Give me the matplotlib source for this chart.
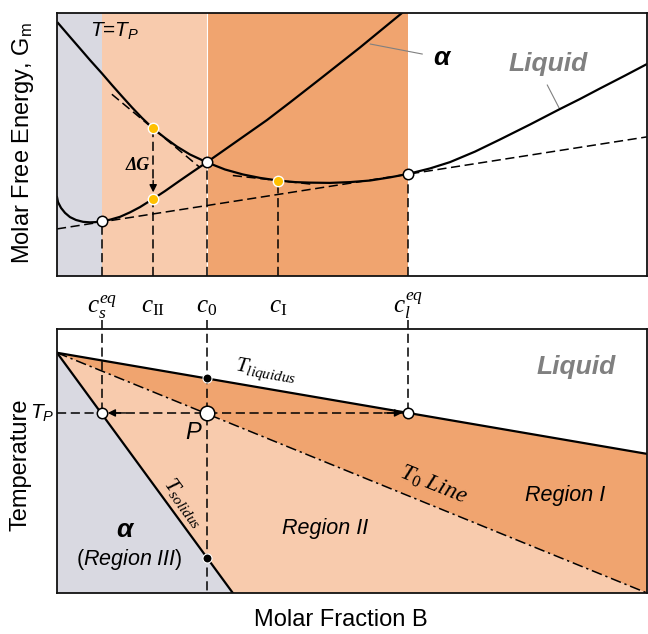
import matplotlib
matplotlib.use("Agg")
import matplotlib.pyplot as plt

plt.rcParams["font.family"] = ["Liberation Sans", "DejaVu Sans"]
plt.rcParams["mathtext.fontset"] = "custom"
plt.rcParams["mathtext.rm"] = "Liberation Serif"
plt.rcParams["mathtext.it"] = "Liberation Serif:italic"
plt.rcParams["mathtext.sf"] = "Liberation Sans:italic"
plt.rcParams["mathtext.bf"] = "Liberation Sans"

# ── colours ──
GREY_REG = "#d9d9e1"
LIGHT_OR = "#f8cbad"
DARK_OR = "#f0a46f"
YELLOW = "#ffc000"
TXT_GREY = "#808080"

# ── compositions (molar fraction B, 0-100 across the axis) ──
c_s_eq = 7.6
c_II = 16.3
c_0 = 25.4
c_I = 37.5
c_l_eq = 59.5
comp_labels = [r"$c_s^{eq}$", r"$c_{\mathrm{II}}$", r"$c_0$", r"$c_{\mathrm{I}}$", r"$c_l^{eq}$"]
comp_values = [c_s_eq, c_II, c_0, c_I, c_l_eq]

# ── free energy curves at T = T_P (arbitrary units 0-100) ──
liq_x = [0.17, 2.20, 3.90, 5.59, 7.63, 9.32, 11.02, 12.71, 14.41, 16.27, 18.31,
         20.34, 22.54, 25.42, 28.47, 31.53, 34.41, 37.46, 40.34, 42.88, 46.27,
         49.66, 53.05, 56.44, 59.49, 63.22, 66.61, 70.85, 75.08, 80.17, 85.08,
         88.64, 92.03, 96.27, 100.0]
liq_G = [96.2, 90.9, 86.5, 82.1, 77.0, 72.6, 68.3, 64.1, 60.1, 56.1, 52.5,
         49.2, 46.2, 43.2, 40.5, 38.6, 37.3, 36.3, 35.7, 35.5, 35.4,
         35.7, 36.3, 37.5, 38.8, 40.9, 43.3, 47.3, 51.9, 57.6, 63.3,
         67.3, 71.3, 76.2, 80.6]
alpha_x = [0.0, 0.17, 0.68, 1.36, 2.20, 3.22, 4.41, 5.59, 6.61, 7.63, 8.98,
           10.68, 12.37, 14.07, 16.27, 18.31, 20.85, 23.05, 25.42, 27.97, 30.51,
           33.05, 35.59, 39.49, 44.58, 51.36, 58.47]
alpha_G = [30.0, 28.1, 25.9, 24.0, 22.4, 21.3, 20.6, 20.4, 20.5, 20.9, 21.4,
           22.5, 24.2, 26.2, 29.3, 32.3, 36.3, 39.7, 43.3, 47.3, 51.3,
           55.3, 59.3, 66.0, 74.9, 86.9, 100.0]
common_tangent_x = [0.0, 100.0]
common_tangent_G = [17.9, 52.9]
tangent_II_x = [9.3, 24.2]
tangent_II_G = [69.1, 41.3]
tangent_I_x = [29.8, 43.2]
tangent_I_G = [38.2, 34.9]
G_eq_s, G_0, G_eq_l = 20.9, 43.3, 38.8
G_II_liq, G_II_alpha, G_I_liq = 56.1, 29.3, 36.3

# ── phase diagram (temperature 0-100) ──
T_melt_A = 91.0
liquidus_x = [0.0, 100.0]
liquidus_T = [T_melt_A, 52.7]
solidus_x = [0.0, 29.8]
solidus_T = [T_melt_A, 0.0]
t0_x = [0.0, 100.0]
t0_T = [T_melt_A, 0.0]
T_P = 68.2
T_liq_c0 = 81.3
T_sol_c0 = 13.4

DASH = (0, (6, 3))
DASHDOT = (0, (7, 2.5, 1.5, 2.5))

fig = plt.figure(figsize=(6.48, 6.34), dpi=100)
ax1 = fig.add_axes([57 / 648, 1 - 276 / 634, 590 / 648, 263 / 634])
ax2 = fig.add_axes([57 / 648, 1 - 593 / 634, 590 / 648, 264 / 634])

for ax in (ax1, ax2):
    ax.set_xlim(0, 100)
    ax.set_ylim(0, 100)
    ax.set_xticks([])
    ax.set_yticks([])
    for sp in ax.spines.values():
        sp.set_linewidth(1.3)
        sp.set_color("#111111")
        sp.set_zorder(10)

# ══════════════════════════════════════════════
# Top: free energy curves
# ══════════════════════════════════════════════
ax1.axvspan(0, c_s_eq, color=GREY_REG, lw=0, zorder=0)
ax1.axvspan(c_s_eq, c_0, color=LIGHT_OR, lw=0, zorder=0)
ax1.axvspan(c_0, c_l_eq, color=DARK_OR, lw=0, zorder=0)
ax1.axvline(c_0, color="white", lw=0.8, zorder=0.5)

ax1.plot(liq_x, liq_G, color="k", lw=1.6, zorder=3, solid_joinstyle="round")
ax1.plot(alpha_x, alpha_G, color="k", lw=1.6, zorder=3, solid_joinstyle="round")
ax1.plot(common_tangent_x, common_tangent_G, color="k", lw=1.1, ls=DASH, zorder=2)
ax1.plot(tangent_II_x, tangent_II_G, color="k", lw=1.1, ls=DASH, zorder=2)
ax1.plot(tangent_I_x, tangent_I_G, color="k", lw=1.1, ls=DASH, zorder=2)

for xv, gv in [(c_s_eq, G_eq_s), (c_II, G_II_alpha), (c_0, G_0), (c_I, G_I_liq), (c_l_eq, G_eq_l)]:
    ax1.plot([xv, xv], [0, gv], color="k", lw=1.1, ls=DASH, zorder=2)

# delta G arrow
ax1.plot([c_II, c_II], [G_II_liq, G_II_alpha + 6], color="k", lw=1.1, ls=DASH, zorder=2)
ax1.annotate("", xy=(c_II, G_II_alpha + 2.5), xytext=(c_II, G_II_alpha + 7),
             arrowprops=dict(arrowstyle="-|>", color="k", lw=1.0, mutation_scale=11,
                             shrinkA=0, shrinkB=0), zorder=4)
ax1.text(c_II - 2.7, 42.2, "ΔG", fontsize=13, fontweight="bold", fontstyle="italic",
         family="Liberation Serif", ha="center", va="center")

ax1.plot([c_s_eq, c_0, c_l_eq], [G_eq_s, G_0, G_eq_l], "o", ms=7.5, mfc="white",
         mec="k", mew=1.1, zorder=5)
ax1.plot([c_II, c_II, c_I], [G_II_liq, G_II_alpha, G_I_liq], "o", ms=7.5, mfc=YELLOW,
         mec="white", mew=1.0, zorder=5)

ax1.text(9.8, 93.0, r"$\mathsf{T}$=$\mathsf{T_P}$", fontsize=15, ha="center", va="center")
ax1.plot([53.1, 61.9], [88.2, 84.4], color=TXT_GREY, lw=0.8)
ax1.text(65.2, 83.0, "α", fontsize=19, fontweight="bold", fontstyle="italic",
         ha="center", va="center")
ax1.plot([83.1, 85.1], [72.6, 63.9], color=TXT_GREY, lw=0.8)
ax1.text(83.3, 80.6, "Liquid", fontsize=19, fontweight="bold", fontstyle="italic",
         color=TXT_GREY, ha="center", va="center")

# ══════════════════════════════════════════════
# Bottom: phase diagram
# ══════════════════════════════════════════════
ax2.fill([solidus_x[0], solidus_x[1], 0], [solidus_T[0], solidus_T[1], 0],
         color=GREY_REG, lw=0, zorder=0)
ax2.fill([solidus_x[0], t0_x[1], solidus_x[1]], [solidus_T[0], t0_T[1], solidus_T[1]],
         color=LIGHT_OR, lw=0, zorder=0)
ax2.fill([liquidus_x[0], liquidus_x[1], t0_x[1]], [liquidus_T[0], liquidus_T[1], t0_T[1]],
         color=DARK_OR, lw=0, zorder=0)

ax2.plot(liquidus_x, liquidus_T, color="k", lw=1.6, zorder=3)
ax2.plot(solidus_x, solidus_T, color="k", lw=1.6, zorder=3)
ax2.plot(t0_x, t0_T, color="k", lw=1.1, ls=DASHDOT, zorder=3)

# dashed guides from top panel
for xv, t_end in [(c_s_eq, T_P), (c_0, 0), (c_l_eq, T_P)]:
    ax2.plot([xv, xv], [103.5, t_end], color="k", lw=1.1, ls=DASH, zorder=2, clip_on=False)
ax2.plot([0, c_l_eq], [T_P, T_P], color="k", lw=1.1, ls=DASH, zorder=2)
ax2.annotate("", xy=(c_s_eq + 1.0, T_P), xytext=(c_s_eq + 4, T_P),
             arrowprops=dict(arrowstyle="-|>", color="k", lw=1.0, mutation_scale=11,
                             shrinkA=0, shrinkB=0), zorder=4)
ax2.annotate("", xy=(c_l_eq - 1.0, T_P), xytext=(c_l_eq - 4, T_P),
             arrowprops=dict(arrowstyle="-|>", color="k", lw=1.0, mutation_scale=11,
                             shrinkA=0, shrinkB=0), zorder=4)

ax2.plot([c_s_eq, c_l_eq], [T_P, T_P], "o", ms=7.5, mfc="white", mec="k", mew=1.1, zorder=5)
ax2.plot([c_0], [T_P], "o", ms=10.5, mfc="white", mec="k", mew=1.1, zorder=5)
ax2.plot([c_0, c_0], [T_liq_c0, T_sol_c0], "o", ms=6.5, mfc="k", mec="white", mew=0.8, zorder=5)

# composition labels between the panels
for xv, lab in zip(comp_values, comp_labels):
    ax2.text(xv, 106.2, lab, fontsize=18, ha="center", va="baseline", clip_on=False)

ax2.text(-0.4, T_P, r"$\mathsf{T_P}$", fontsize=15, ha="right", va="center")
ax2.text(23.0, 60.8, "P", fontsize=17, fontstyle="italic", ha="center", va="center")
ax2.text(35.4, 83.8, r"$T_{liquidus}$", fontsize=15.5, rotation=-9.7,
         rotation_mode="anchor", ha="center", va="center")
ax2.text(21.5, 34.1, r"$T_{solidus}$", fontsize=15.5, rotation=-53.9,
         rotation_mode="anchor", ha="center", va="center")
ax2.text(63.7, 40.8, r"$T_0\ Line$", fontsize=17, rotation=-22,
         rotation_mode="anchor", ha="center", va="center")
ax2.text(86.1, 37.1, "Region I", fontsize=15.5, fontstyle="italic", ha="center", va="center")
ax2.text(45.4, 24.6, "Region II", fontsize=15.5, fontstyle="italic", ha="center", va="center")
ax2.text(11.5, 23.9, "α", fontsize=19, fontweight="bold", fontstyle="italic",
         ha="center", va="center")
ax2.text(12.2, 12.5, r"($\mathsf{Region\ III}$)", fontsize=15.5, ha="center", va="center")
ax2.text(88.0, 85.6, "Liquid", fontsize=19, fontweight="bold", fontstyle="italic",
         color=TXT_GREY, ha="center", va="center")

# axis labels
fig.text(23 / 648, 1 - 143 / 634, r"Molar Free Energy, G$_{\mathbf{m}}$", fontsize=17,
         rotation=90, ha="center", va="center")
fig.text(21 / 648, 1 - 465 / 634, "Temperature", fontsize=17, rotation=90,
         ha="center", va="center")
fig.text(341 / 648, 1 - 620 / 634, "Molar Fraction B", fontsize=17, ha="center", va="center")

fig.savefig("out.png", dpi=100)
